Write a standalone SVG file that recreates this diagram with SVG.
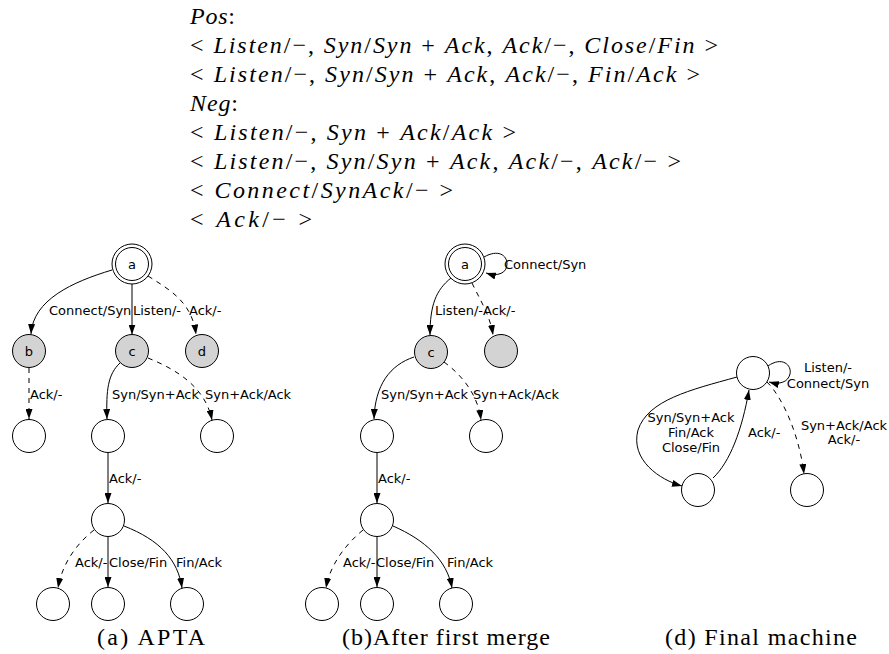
<svg xmlns="http://www.w3.org/2000/svg" width="889" height="654" viewBox="0 0 889 654">
  <style>
    .math { font-family: "Liberation Serif", "Times New Roman", serif; font-size: 24px; fill: #000; }
    .i { font-style: italic; }
    .cap { font-family: "Liberation Serif", "Times New Roman", serif; font-size: 24px; fill: #000; text-anchor: middle; }
    .lbl { font-family: "DejaVu Sans", "Liberation Sans", sans-serif; font-size: 13px; fill: #000; }
    .mid { text-anchor: middle; }
    .node circle { stroke: #000; stroke-width: 1; fill: #fff; }
    .node.gray circle { fill: #d3d3d3; }
    .node text { font-family: "DejaVu Sans", "Liberation Sans", sans-serif; font-size: 13px; text-anchor: middle; fill: #000; }
    .edge { fill: none; stroke: #000; stroke-width: 1; marker-end: url(#arrow); }
    .dash { stroke-dasharray: 5 5; }
  </style>
  <defs>
    <marker id="arrow" viewBox="0 0 10 7" refX="10" refY="3.5" markerWidth="10" markerHeight="7" markerUnits="userSpaceOnUse" orient="auto">
      <path d="M0,0 L10,3.5 L0,7 z" fill="#000"/>
    </marker>
  </defs>

  <!-- positive and negative sample traces -->
  <g id="traces">
    <text class="math" x="190" y="24" textLength="45" lengthAdjust="spacing"><tspan class="i">Pos</tspan>:</text>
    <text class="math" x="190" y="53" textLength="528" lengthAdjust="spacing">&lt; <tspan class="i">Listen</tspan>/−, <tspan class="i">Syn</tspan>/<tspan class="i">Syn</tspan> + <tspan class="i">Ack</tspan>, <tspan class="i">Ack</tspan>/−, <tspan class="i">Close</tspan>/<tspan class="i">Fin</tspan> &gt;</text>
    <text class="math" x="190" y="82" textLength="510" lengthAdjust="spacing">&lt; <tspan class="i">Listen</tspan>/−, <tspan class="i">Syn</tspan>/<tspan class="i">Syn</tspan> + <tspan class="i">Ack</tspan>, <tspan class="i">Ack</tspan>/−, <tspan class="i">Fin</tspan>/<tspan class="i">Ack</tspan> &gt;</text>
    <text class="math" x="190" y="111" textLength="48" lengthAdjust="spacing"><tspan class="i">Neg</tspan>:</text>
    <text class="math" x="190" y="140" textLength="326" lengthAdjust="spacing">&lt; <tspan class="i">Listen</tspan>/−, <tspan class="i">Syn</tspan> + <tspan class="i">Ack</tspan>/<tspan class="i">Ack</tspan> &gt;</text>
    <text class="math" x="190" y="169" textLength="491" lengthAdjust="spacing">&lt; <tspan class="i">Listen</tspan>/−, <tspan class="i">Syn</tspan>/<tspan class="i">Syn</tspan> + <tspan class="i">Ack</tspan>, <tspan class="i">Ack</tspan>/−, <tspan class="i">Ack</tspan>/− &gt;</text>
    <text class="math" x="190" y="198" textLength="263" lengthAdjust="spacing">&lt; <tspan class="i">Connect</tspan>/<tspan class="i">SynAck</tspan>/− &gt;</text>
    <text class="math" x="190" y="227" textLength="122" lengthAdjust="spacing">&lt; <tspan class="i">Ack</tspan>/− &gt;</text>
  </g>

  <!-- (a) APTA -->
  <g id="apta-edges">
    <path class="edge" d="M112,270 C72,282 33,300 31,334"/>
    <path class="edge" d="M132,284 L132,334.5"/>
    <path class="edge dash" d="M148,276 C170,290 192,302 196,334.5"/>
    <path class="edge dash" d="M29,368 L29,419"/>
    <path class="edge" d="M120,363 C108,374 106,390 107,419"/>
    <path class="edge dash" d="M148,358 C175,369 205,386 212,420"/>
    <path class="edge" d="M108,453 L108,503"/>
    <path class="edge dash" d="M94,530 C75,545 62,565 58,588"/>
    <path class="edge" d="M108,537 L108,587"/>
    <path class="edge" d="M124,526 C160,540 178,560 182,588"/>
    <text class="lbl" x="49" y="315">Connect/Syn</text>
    <text class="lbl" x="133" y="315">Listen/-</text>
    <text class="lbl" x="189" y="315">Ack/-</text>
    <text class="lbl" x="30" y="399">Ack/-</text>
    <text class="lbl" x="112" y="399">Syn/Syn+Ack</text>
    <text class="lbl" x="205" y="399">Syn+Ack/Ack</text>
    <text class="lbl" x="109" y="483">Ack/-</text>
    <text class="lbl" x="75" y="567">Ack/-</text>
    <text class="lbl" x="109" y="567">Close/Fin</text>
    <text class="lbl" x="176" y="567">Fin/Ack</text>
  </g>
  <g id="a-a" class="node"><circle cx="132" cy="264" r="20"/><circle cx="132" cy="264" r="16.5"/><text x="132" y="268.5">a</text></g>
  <g id="a-b" class="node gray"><circle cx="29" cy="351" r="16.5"/><text x="29" y="355.5">b</text></g>
  <g id="a-c" class="node gray"><circle cx="132" cy="351" r="16.5"/><text x="132" y="355.5">c</text></g>
  <g id="a-d" class="node gray"><circle cx="202" cy="351" r="16.5"/><text x="202" y="355.5">d</text></g>
  <g id="a-n1" class="node"><circle cx="29" cy="436" r="16.5"/></g>
  <g id="a-n2" class="node"><circle cx="108" cy="436" r="16.5"/></g>
  <g id="a-n3" class="node"><circle cx="217" cy="436" r="16.5"/></g>
  <g id="a-n4" class="node"><circle cx="108" cy="520" r="16.5"/></g>
  <g id="a-n5" class="node"><circle cx="53" cy="604" r="16.5"/></g>
  <g id="a-n6" class="node"><circle cx="108" cy="604" r="16.5"/></g>
  <g id="a-n7" class="node"><circle cx="187" cy="604" r="16.5"/></g>
  <text class="cap" x="151" y="645" textLength="108" lengthAdjust="spacing">(a) APTA</text>

  <!-- (b) after first merge -->
  <g id="merge-edges">
    <path class="edge" d="M484,257 C498,249 507,255 507,264 C507,273 498,277 486,273"/>
    <path class="edge" d="M451,278 C436,290 430,305 430,335"/>
    <path class="edge dash" d="M472,283 C480,300 490,315 493,335"/>
    <path class="edge" d="M414,357 C390,365 375,385 374,419"/>
    <path class="edge dash" d="M444,362 C462,375 478,395 481,420"/>
    <path class="edge" d="M377,453 L377,503"/>
    <path class="edge dash" d="M363,530 C345,545 330,565 326,588"/>
    <path class="edge" d="M377,537 L377,587"/>
    <path class="edge" d="M393,526 C425,540 447,560 452,588"/>
    <text class="lbl" x="504" y="269">Connect/Syn</text>
    <text class="lbl" x="435" y="315">Listen/-</text>
    <text class="lbl" x="483" y="315">Ack/-</text>
    <text class="lbl" x="381" y="399">Syn/Syn+Ack</text>
    <text class="lbl" x="473" y="399">Syn+Ack/Ack</text>
    <text class="lbl" x="378" y="483">Ack/-</text>
    <text class="lbl" x="343" y="567">Ack/-</text>
    <text class="lbl" x="376" y="567">Close/Fin</text>
    <text class="lbl" x="447" y="567">Fin/Ack</text>
  </g>
  <g id="b-a" class="node"><circle cx="465" cy="264" r="20"/><circle cx="465" cy="264" r="16.5"/><text x="465" y="268.5">a</text></g>
  <g id="b-c" class="node gray"><circle cx="431" cy="352" r="16.5"/><text x="431" y="356.5">c</text></g>
  <g id="b-d" class="node gray"><circle cx="501" cy="351" r="16.5"/></g>
  <g id="b-n1" class="node"><circle cx="377" cy="436" r="16.5"/></g>
  <g id="b-n2" class="node"><circle cx="486" cy="436" r="16.5"/></g>
  <g id="b-n3" class="node"><circle cx="377" cy="520" r="16.5"/></g>
  <g id="b-n4" class="node"><circle cx="322" cy="604" r="16.5"/></g>
  <g id="b-n5" class="node"><circle cx="377" cy="604" r="16.5"/></g>
  <g id="b-n6" class="node"><circle cx="456" cy="604" r="16.5"/></g>
  <text class="cap" x="446" y="645" textLength="208" lengthAdjust="spacing">(b)After first merge</text>

  <!-- (d) final machine -->
  <g id="final-edges">
    <path class="edge" d="M768,366 C782,356 792,365 790,374 C788,382 780,385 769,382"/>
    <path class="edge" d="M737,377 C690,390 648,400 638,430 C630,460 660,480 682,486"/>
    <path class="edge" d="M713,478 C730,462 742,430 749,390"/>
    <path class="edge dash" d="M767,382 C785,400 800,440 804,474"/>
    <text class="lbl mid" x="828" y="372">Listen/-</text>
    <text class="lbl mid" x="828" y="388">Connect/Syn</text>
    <text class="lbl mid" x="691" y="422">Syn/Syn+Ack</text>
    <text class="lbl mid" x="691" y="437">Fin/Ack</text>
    <text class="lbl mid" x="691" y="452">Close/Fin</text>
    <text class="lbl" x="748" y="437">Ack/-</text>
    <text class="lbl mid" x="844" y="430">Syn+Ack/Ack</text>
    <text class="lbl mid" x="844" y="444">Ack/-</text>
  </g>
  <g id="d-top" class="node"><circle cx="753" cy="373" r="16.5"/></g>
  <g id="d-left" class="node"><circle cx="698" cy="490" r="16.5"/></g>
  <g id="d-right" class="node"><circle cx="807" cy="490" r="16.5"/></g>
  <text class="cap" x="761" y="645" textLength="192" lengthAdjust="spacing">(d) Final machine</text>
</svg>
